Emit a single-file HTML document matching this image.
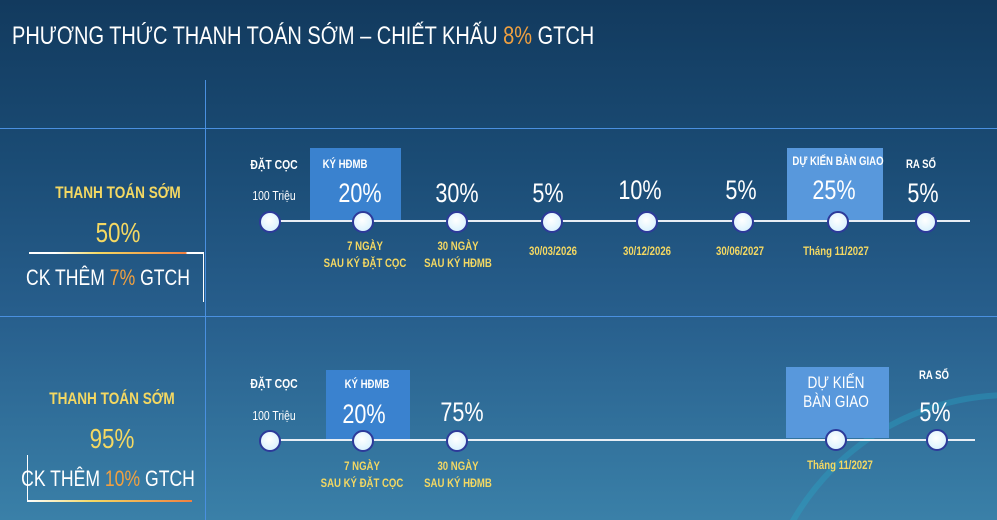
<!DOCTYPE html><html><head><meta charset="utf-8"><style>
html,body{margin:0;width:997px;height:520px;overflow:hidden}
#r{position:relative;width:997px;height:520px;overflow:hidden;font-family:"Liberation Sans",sans-serif;background:linear-gradient(180deg,#123a5e 0%,#1a4b74 30%,#275e8c 60%,#3a80a8 100%);}
.a{position:absolute;white-space:nowrap;transform:translateX(-50%) scaleX(.8);text-align:center;line-height:1}
.w{color:#fff}.y{color:#f4d862}.o{color:#f0a040}
.c{position:absolute;width:18px;height:18px;border-radius:50%;background:radial-gradient(circle at 45% 40%,#fff,#cfeefd);border:2px solid #2d3a9a;transform:translate(-50%,-50%)}
.h{position:absolute;height:1px;background:#4a90e0}
.b{position:absolute}
</style></head><body><div id="r">
<svg style="position:absolute;left:0;top:0" width="997" height="520"><circle cx="1010" cy="645" r="250" fill="none" stroke="rgba(40,170,200,.35)" stroke-width="6"/></svg>
<div class="w" style="position:absolute;left:12px;top:22px;font-size:25px;white-space:nowrap;transform:scaleX(.8);transform-origin:left">PHƯƠNG THỨC THANH TOÁN SỚM – CHIẾT KHẤU <span class="o">8%</span> GTCH</div>
<div class="h" style="left:0;top:128px;width:997px"></div>
<div class="h" style="left:0;top:316px;width:997px"></div>
<div style="position:absolute;left:205px;top:80px;width:1px;height:440px;background:#4a90e0"></div>
<div class="a y" style="left:118px;top:184px;font-size:17px;font-weight:bold">THANH TOÁN SỚM</div>
<div class="a y" style="left:118px;top:219px;font-size:28px">50%</div>
<div style="position:absolute;left:29px;top:252px;width:174px;height:2px;background:linear-gradient(90deg,#fff 0,#fff 15%,#f4d862 40%,#f08040 90%,#fff 91%)"></div>
<div style="position:absolute;left:203px;top:252px;width:1px;height:50px;background:#fff"></div>
<div class="a w" style="left:108px;top:267px;font-size:22px">CK THÊM <span class="o">7%</span> GTCH</div>
<div class="a y" style="left:112px;top:390px;font-size:17px;font-weight:bold">THANH TOÁN SỚM</div>
<div class="a y" style="left:112px;top:425px;font-size:28px">95%</div>
<div style="position:absolute;left:27px;top:455px;width:1px;height:45px;background:#fff"></div>
<div style="position:absolute;left:27px;top:500px;width:165px;height:2px;background:linear-gradient(90deg,#fff,#f4d862 40%,#f08040)"></div>
<div class="a w" style="left:108px;top:468px;font-size:22px">CK THÊM <span class="o">10%</span> GTCH</div>
<div class="b" style="left:310px;top:148px;width:91px;height:73px;background:#3a82cf"></div>
<div class="b" style="left:787px;top:148px;width:96px;height:73px;background:#5898dc"></div>
<div class="b" style="left:260px;top:220px;width:710px;height:2px;background:#e8eef5"></div>
<div class="a w" style="left:274px;top:158px;font-size:13px;font-weight:bold">ĐẶT CỌC</div>
<div class="a w" style="left:274px;top:189px;font-size:13px">100 Triệu</div>
<div class="a w" style="left:345px;top:158px;font-size:12px;font-weight:bold">KÝ HĐMB</div>
<div class="a w" style="left:360px;top:180px;font-size:27px">20%</div>
<div class="a w" style="left:457px;top:180px;font-size:27px">30%</div>
<div class="a w" style="left:548px;top:180px;font-size:27px">5%</div>
<div class="a w" style="left:640px;top:177px;font-size:27px">10%</div>
<div class="a w" style="left:741px;top:177px;font-size:27px">5%</div>
<div class="a w" style="left:838px;top:155px;font-size:12px;font-weight:bold">DỰ KIẾN BÀN GIAO</div>
<div class="a w" style="left:834px;top:177px;font-size:27px">25%</div>
<div class="a w" style="left:921px;top:158px;font-size:12px;font-weight:bold">RA SỔ</div>
<div class="a w" style="left:923px;top:180px;font-size:27px">5%</div>
<div class="c" style="left:270px;top:222px"></div><div class="c" style="left:363px;top:222px"></div><div class="c" style="left:457px;top:222px"></div><div class="c" style="left:552px;top:222px"></div><div class="c" style="left:647px;top:222px"></div><div class="c" style="left:743px;top:222px"></div><div class="c" style="left:838px;top:222px"></div><div class="c" style="left:926px;top:222px"></div>
<div class="a y" style="left:365px;top:238px;font-size:12px;font-weight:bold;line-height:17px">7 NGÀY<br>SAU KÝ ĐẶT CỌC</div>
<div class="a y" style="left:458px;top:238px;font-size:12px;font-weight:bold;line-height:17px">30 NGÀY<br>SAU KÝ HĐMB</div>
<div class="a y" style="left:553px;top:245px;font-size:12px;font-weight:bold">30/03/2026</div>
<div class="a y" style="left:647px;top:245px;font-size:12px;font-weight:bold">30/12/2026</div>
<div class="a y" style="left:740px;top:245px;font-size:12px;font-weight:bold">30/06/2027</div>
<div class="a y" style="left:836px;top:245px;font-size:12px;font-weight:bold">Tháng 11/2027</div>
<div class="b" style="left:326px;top:370px;width:84px;height:71px;background:#3a82cf"></div>
<div class="b" style="left:786px;top:367px;width:103px;height:71px;background:#5898dc"></div>
<div class="b" style="left:260px;top:439px;width:715px;height:2px;background:#e8eef5"></div>
<div class="a w" style="left:274px;top:377px;font-size:13px;font-weight:bold">ĐẶT CỌC</div>
<div class="a w" style="left:274px;top:409px;font-size:13px">100 Triệu</div>
<div class="a w" style="left:367px;top:378px;font-size:12px;font-weight:bold">KÝ HĐMB</div>
<div class="a w" style="left:364px;top:401px;font-size:27px">20%</div>
<div class="a w" style="left:462px;top:399px;font-size:27px">75%</div>
<div class="a w" style="left:836px;top:373px;font-size:17px;line-height:19px">DỰ KIẾN<br>BÀN GIAO</div>
<div class="a w" style="left:934px;top:369px;font-size:12px;font-weight:bold">RA SỔ</div>
<div class="a w" style="left:935px;top:399px;font-size:27px">5%</div>
<div class="c" style="left:270px;top:441px"></div><div class="c" style="left:363px;top:441px"></div><div class="c" style="left:457px;top:441px"></div><div class="c" style="left:836px;top:440px"></div><div class="c" style="left:937px;top:440px"></div>
<div class="a y" style="left:362px;top:458px;font-size:12px;font-weight:bold;line-height:17px">7 NGÀY<br>SAU KÝ ĐẶT CỌC</div>
<div class="a y" style="left:458px;top:458px;font-size:12px;font-weight:bold;line-height:17px">30 NGÀY<br>SAU KÝ HĐMB</div>
<div class="a y" style="left:840px;top:459px;font-size:12px;font-weight:bold">Tháng 11/2027</div>
</div></body></html>
